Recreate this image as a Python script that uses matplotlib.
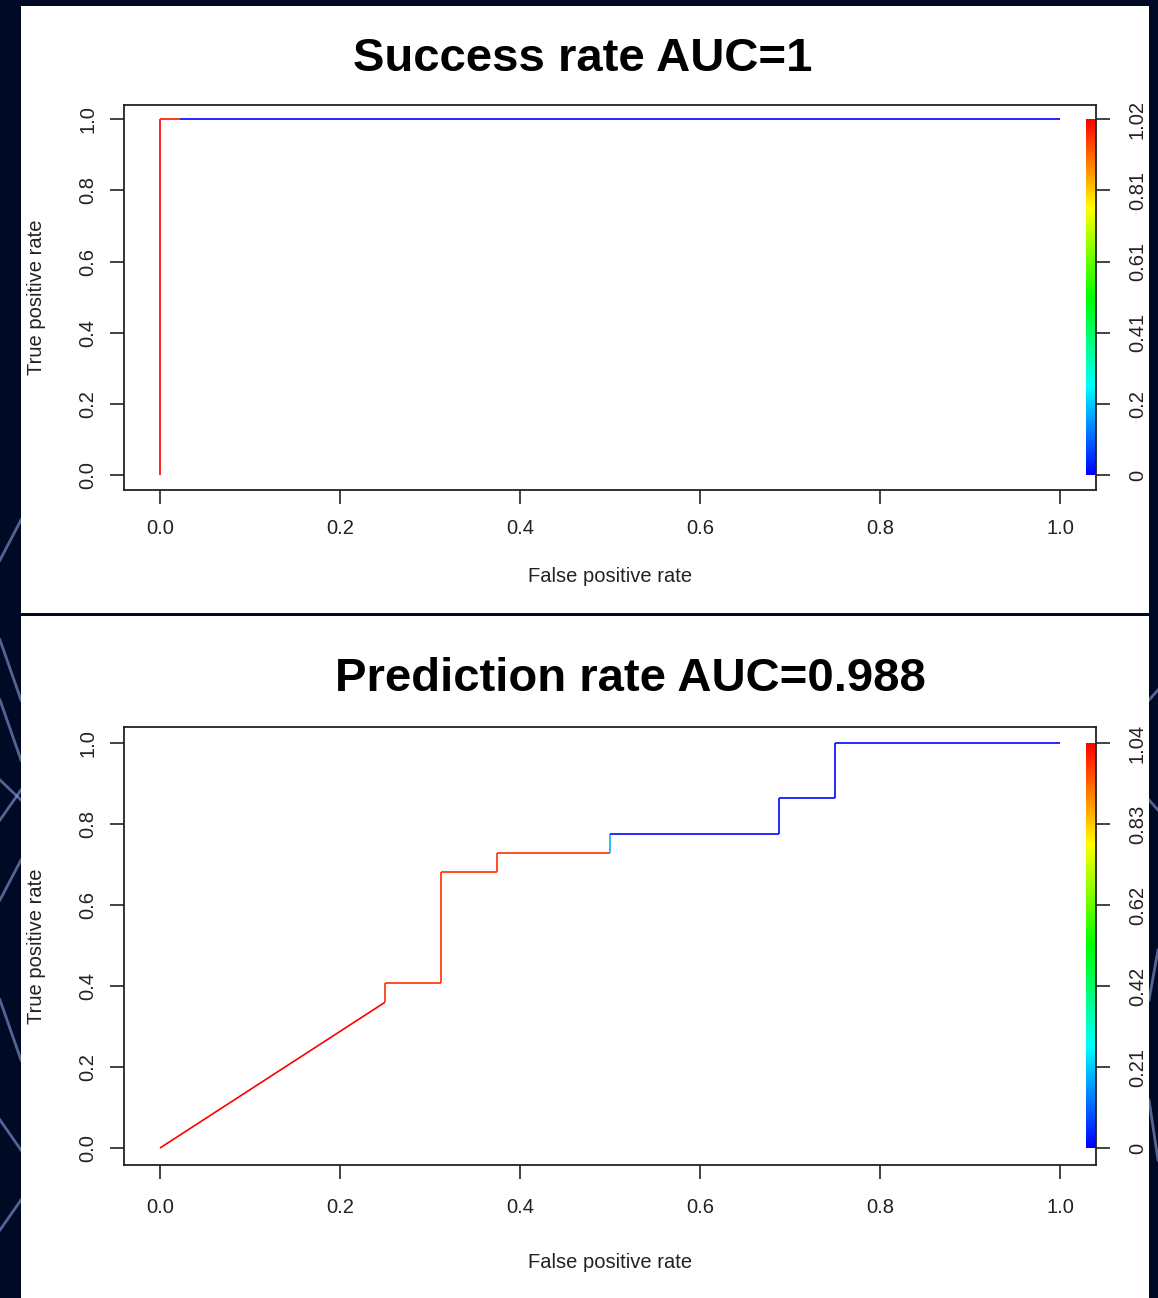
import colorsys
import matplotlib
matplotlib.use("Agg")
import matplotlib.pyplot as plt
import numpy as np
from matplotlib.collections import LineCollection
from matplotlib.colors import ListedColormap
from matplotlib.lines import Line2D
from matplotlib.patches import Rectangle

plt.rcParams['font.family'] = ['Liberation Sans', 'DejaVu Sans']

W, H = 1158, 1298

# ROC data
top_title = "Success rate AUC=1"
top_fpr = [0.0, 0.0, 0.022, 1.0]
top_tpr = [0.0, 1.0, 1.0, 1.0]
top_seg_cutoff = [1.02, 1.0, 0.0]
top_cbar_labels = ["0", "0.2", "0.41", "0.61", "0.81", "1.02"]
top_cmax = 1.02

bot_title = "Prediction rate AUC=0.988"
bot_fpr = [0.0, 0.25, 0.25, 0.3125, 0.3125, 0.375, 0.375, 0.5, 0.5, 0.6875, 0.6875, 0.75, 0.75, 1.0]
bot_tpr = [0.0, 0.36, 0.408, 0.408, 0.682, 0.682, 0.728, 0.728, 0.775, 0.775, 0.865, 0.865, 1.0, 1.0]
bot_seg_cutoff = [1.04, 0.99, 0.99, 0.99, 0.99, 0.99, 0.99, 0.18, 0.01, 0.01, 0.01, 0.01, 0.01]
bot_cbar_labels = ["0", "0.21", "0.42", "0.62", "0.83", "1.04"]
bot_cmax = 1.04

x_ticks = [0.0, 0.2, 0.4, 0.6, 0.8, 1.0]
y_ticks = [0.0, 0.2, 0.4, 0.6, 0.8, 1.0]

# R rainbow, blue -> red
hues = np.linspace(2 / 3, 0, 256)
rainbow = ListedColormap([colorsys.hsv_to_rgb(h, 1, 1) for h in hues])


def px(l, t, r, b):
    return [l / W, 1 - b / H, (r - l) / W, (b - t) / H]


fig = plt.figure(figsize=(W / 100, H / 100), dpi=100, facecolor="#000a24")

# some of the background network streaks
streaks = [
    ((0, 560), (21, 520)), ((0, 640), (21, 700)), ((0, 700), (21, 760)),
    ((0, 780), (21, 800)), ((0, 820), (21, 790)), ((0, 900), (21, 860)),
    ((0, 1000), (21, 1060)), ((0, 1120), (21, 1150)), ((0, 1230), (21, 1200)),
    ((1149, 700), (1158, 690)), ((1149, 800), (1158, 810)), ((1149, 1000), (1158, 950)),
    ((1149, 1100), (1158, 1160)),
]
for (x0, y0), (x1, y1) in streaks:
    fig.add_artist(Line2D([x0 / W, x1 / W], [1 - y0 / H, 1 - y1 / H],
                          transform=fig.transFigure, color="#8f9fe0", lw=2,
                          alpha=0.6, zorder=-2))

fig.add_artist(Rectangle((21 / W, 1 - 613 / H), 1128 / W, 607 / H,
                         transform=fig.transFigure, facecolor="white", lw=0, zorder=-1))
fig.add_artist(Rectangle((21 / W, 0), 1128 / W, 1 - 616 / H,
                         transform=fig.transFigure, facecolor="white", lw=0, zorder=-1))


def roc_panel(rect, fpr, tpr, seg_cutoff, cmax, cbar_labels, fs, xpad):
    ax = fig.add_axes(rect)
    ax.set_facecolor("white")
    ax.set_xlim(-0.04, 1.04)
    ax.set_ylim(-0.042, 1.04)

    pts = np.column_stack([fpr, tpr])
    segs = np.stack([pts[:-1], pts[1:]], axis=1)
    lc = LineCollection(segs, cmap=rainbow, linewidths=1.2)
    lc.set_array(np.array(seg_cutoff))
    lc.set_clim(0, cmax)
    ax.add_collection(lc)

    grad = np.linspace(0, 1, 256).reshape(-1, 1)
    ax.imshow(grad, extent=(1.029, 1.04, 0, 1), aspect="auto", cmap=rainbow,
              origin="lower", zorder=1)
    ax.set_xlim(-0.04, 1.04)

    ax.set_xticks(x_ticks)
    ax.set_xticklabels([f"{v:.1f}" for v in x_ticks])
    ax.set_yticks(y_ticks)
    ax.set_yticklabels([f"{v:.1f}" for v in y_ticks], rotation=90, va="center")
    ax.tick_params(axis="x", length=10, width=1.2, pad=xpad, labelsize=fs, colors="#222222")
    ax.tick_params(axis="y", length=10, width=1.2, pad=9, labelsize=fs, colors="#222222")
    for s in ax.spines.values():
        s.set_linewidth(1.3)
        s.set_color("#222222")

    rax = ax.twinx()
    rax.set_ylim(ax.get_ylim())
    rax.set_yticks(y_ticks)
    rax.set_yticklabels(cbar_labels, rotation=90, va="center")
    rax.tick_params(axis="y", length=10, width=1.2, pad=13, labelsize=fs, colors="#222222")
    for s in rax.spines.values():
        s.set_visible(False)

    ax.set_xlabel("False positive rate", fontsize=fs, color="#222222")
    ax.set_ylabel("True positive rate", fontsize=fs, color="#222222")
    ax.xaxis.label.set_va("center")
    ax.yaxis.label.set_va("center")
    return ax


ax1 = roc_panel(px(124, 105, 1096, 490), top_fpr, top_tpr, top_seg_cutoff,
                top_cmax, top_cbar_labels, 14.5, 11)
ax1.xaxis.set_label_coords(0.5, -(576 - 490) / 385)
ax1.yaxis.set_label_coords(-(124 - 37) / 972, 0.5)

ax2 = roc_panel(px(124, 727, 1096, 1165), bot_fpr, bot_tpr, bot_seg_cutoff,
                bot_cmax, bot_cbar_labels, 14.5, 14)
ax2.xaxis.set_label_coords(0.5, -(1262 - 1165) / 438)
ax2.yaxis.set_label_coords(-(124 - 37) / 972, 0.5)

fig.text(583 / W, 1 - 59 / H, top_title, ha="center", va="center",
         fontsize=34, fontweight="bold")
fig.text(630 / W, 1 - 679 / H, bot_title, ha="center", va="center",
         fontsize=34, fontweight="bold")

fig.savefig("out.png", dpi=100, facecolor=fig.get_facecolor())
